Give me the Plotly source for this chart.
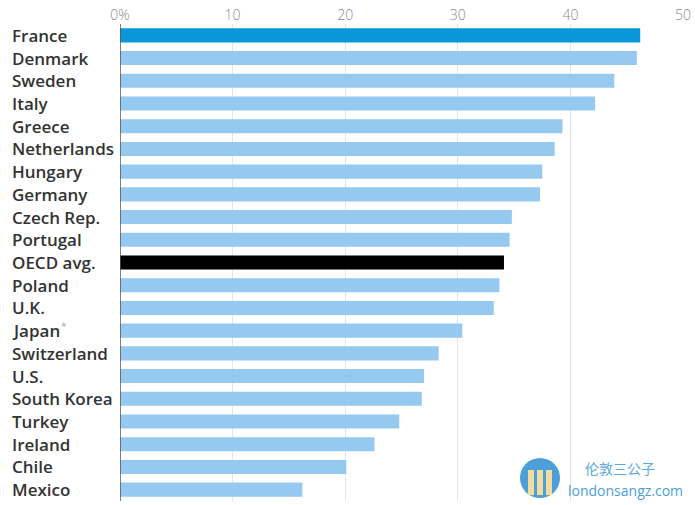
import plotly.graph_objects as go

countries = ["France", "Denmark", "Sweden", "Italy", "Greece", "Netherlands", "Hungary",
             "Germany", "Czech Rep.", "Portugal", "OECD avg.", "Poland", "U.K.", "Japan",
             "Switzerland", "U.S.", "South Korea", "Turkey", "Ireland", "Chile", "Mexico"]
values = [46.2, 45.9, 43.9, 42.2, 39.3, 38.6, 37.5, 37.3, 34.8, 34.6, 34.1, 33.7, 33.2,
          30.4, 28.3, 27.0, 26.8, 24.8, 22.6, 20.1, 16.2]
tick_vals = [0, 10, 20, 30, 40, 50]
tick_text = ["0%", "10", "20", "30", "40", "50"]

def color_for(c):
    if c == "France":
        return "#0897d8"
    if c == "OECD avg.":
        return "#000000"
    return "#96c9ef"

colors = [color_for(c) for c in countries]

W, H = 695, 505
L, R, T, B = 120, 12, 24, 4
PW, PH = W - L - R, H - T - B

fig = go.Figure(go.Bar(
    x=values, y=countries, orientation="h",
    marker=dict(color=colors, line=dict(width=0)),
    hoverinfo="x+y",
))

fig.update_layout(
    width=W, height=H,
    margin=dict(l=L, r=R, t=T, b=B, autoexpand=False),
    paper_bgcolor="white", plot_bgcolor="white",
    bargap=0.38,
    showlegend=False,
    font=dict(family="Open Sans, sans-serif"),
    xaxis=dict(
        range=[0, 50], side="top", tickvals=tick_vals, ticktext=tick_text,
        showgrid=True, gridcolor="#e4e4e4", gridwidth=1,
        zeroline=False, showline=False, ticks="", automargin=False,
        tickfont=dict(family="Open Sans, sans-serif", size=14, color="#8a8a8a", weight=300),
        fixedrange=True,
    ),
    yaxis=dict(
        categoryorder="array", categoryarray=countries[::-1],
        range=[-0.5, len(countries) - 0.5], automargin=False,
        showticklabels=False, showgrid=False, zeroline=False, ticks="",
        fixedrange=True,
    ),
)

# left-aligned category labels
for c in countries:
    fig.add_annotation(
        x=-(L - 10) / PW, xref="paper", y=c, yref="y",
        text=c, showarrow=False, xanchor="left", yanchor="middle",
        font=dict(family="Open Sans, sans-serif", size=17, color="#333333", weight=600),
    )
    if c == "Japan":
        fig.add_annotation(
            x=-(L - 59) / PW, xref="paper", y=c, yref="y", yshift=5,
            text="*", showarrow=False, xanchor="left", yanchor="middle",
            font=dict(family="Open Sans, sans-serif", size=10, color="#aaaaaa"),
        )

# zero axis line
fig.add_shape(type="line", xref="x", yref="paper", x0=0, x1=0, y0=0.0, y1=1.0,
              line=dict(color="#555555", width=1.5), layer="above")

# watermark
def px(xp):
    return (xp - L) / PW

def py(yp):
    return (H - B - yp) / PH

fig.add_shape(type="circle", xref="paper", yref="paper",
              x0=px(520), x1=px(560), y0=py(498), y1=py(458),
              line=dict(width=0), fillcolor="#4d9fd9", layer="above")
for cx in (531, 540, 549):
    fig.add_shape(type="rect", xref="paper", yref="paper",
                  x0=px(cx - 3), x1=px(cx + 3), y0=py(495), y1=py(470),
                  line=dict(width=0), fillcolor="#f3dca0", layer="above")
fig.add_annotation(xref="paper", yref="paper", x=px(620), y=py(468),
                   text="伦敦三公子", showarrow=False, xanchor="center", yanchor="middle",
                   font=dict(family="Noto Sans CJK SC", size=14, color="#5aaadd"))
fig.add_annotation(xref="paper", yref="paper", x=px(625), y=py(490),
                   text="londonsangz.com", showarrow=False, xanchor="center", yanchor="middle",
                   font=dict(family="Open Sans, sans-serif", size=14, color="#4a9fd8"))

fig.write_html(
    "out.html",
    config={"displayModeBar": False},
    post_script="document.body.style.margin='0';document.body.style.overflow='hidden';"
                "document.documentElement.style.overflow='hidden';",
)
